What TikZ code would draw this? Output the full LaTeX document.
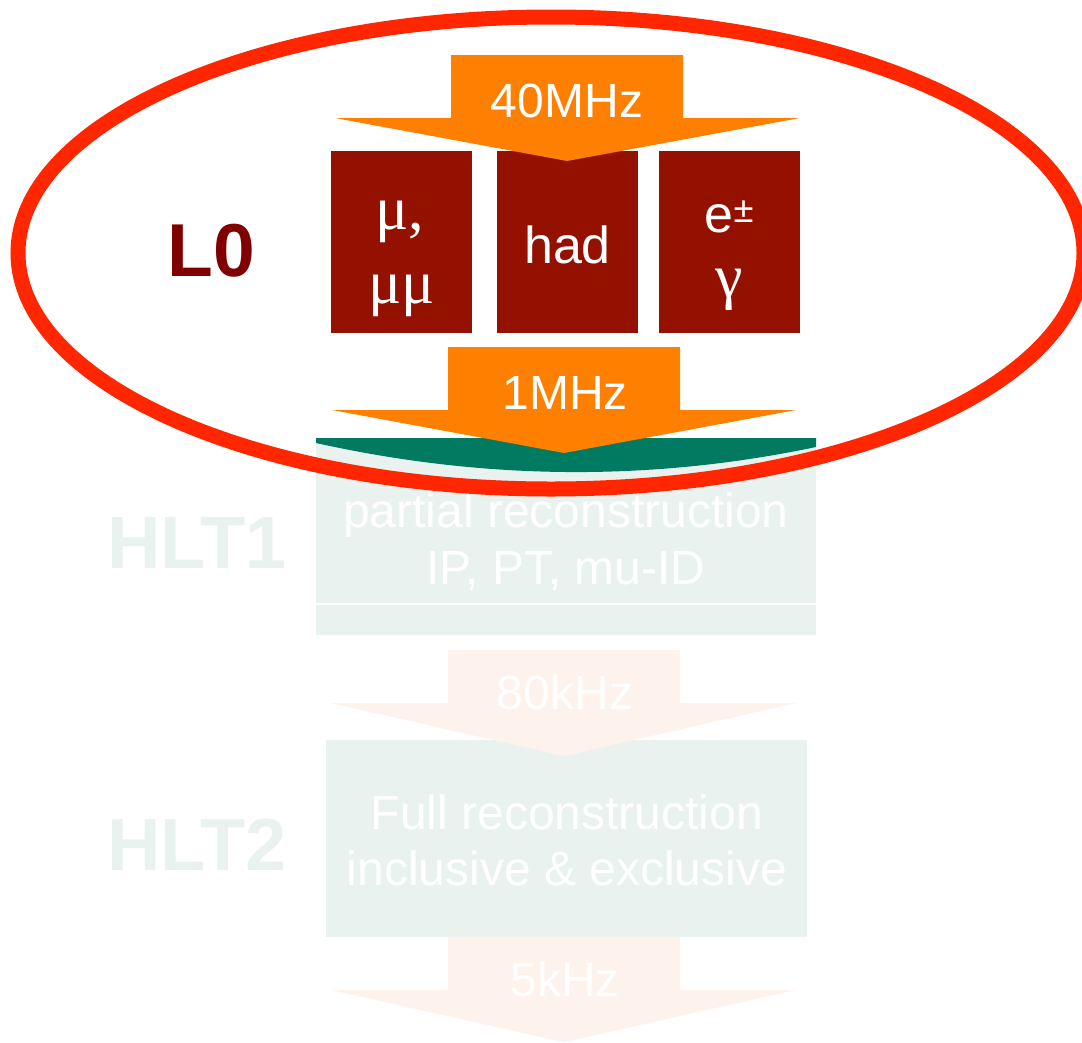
\documentclass[tikz,border=0pt]{standalone}
\usepackage{fontspec}
\setmainfont{Liberation Sans}
\newfontfamily\grk{Liberation Serif}
\definecolor{arrowor}{RGB}{255,128,0}
\definecolor{fadeor}{RGB}{253,243,236}
\definecolor{boxred}{RGB}{148,17,0}
\definecolor{lzero}{RGB}{128,0,0}
\definecolor{bargreen}{RGB}{0,122,96}
\definecolor{lightbox}{RGB}{234,242,240}
\definecolor{ringred}{RGB}{255,38,0}
\begin{document}
\begin{tikzpicture}[x=1pt,y=-1pt,
  lbl/.style={inner sep=0, anchor=base, text=white, font=\fontsize{48}{57}\selectfont},
  boxtxt/.style={inner sep=0, anchor=base, text=white, font=\fontsize{52}{60}\selectfont},
  grktxt/.style={inner sep=0, anchor=base, text=white, font=\grk\fontsize{62}{66}\selectfont},
  redbox/.style={fill=boxred, inner sep=0, minimum width=141, minimum height=182},
  stagelbl/.style={inner sep=0, anchor=base west, text=lightbox, font=\bfseries\fontsize{74}{80}\selectfont},
  lightrect/.style={fill=lightbox, inner sep=0}
]
\useasboundingbox (0,0) rectangle (1082,1042);
\fill[white] (0,0) rectangle (1082,1042);

% HLT1 box
\node[lightrect, minimum width=500, minimum height=197] (hlt1box) at (566,536.5) {};
\draw[white, line width=1.2] (316,604) -- (816,604);
\node[lbl] (pr) at (566,527) {partial reconstruction};
\node[lbl] (ip) at (566,584) {IP, PT, mu-ID};
% green bar
\fill[bargreen] (316,438) -- (816,438) -- (816,447) .. controls (649,482) and (483,480) .. (316,443) -- cycle;

% HLT2 box
\node[lightrect, minimum width=481, minimum height=197] (hlt2box) at (566.5,838.5) {};
\node[lbl] (fr) at (567,829) {Full reconstruction};
\node[lbl] (ie) at (567,885) {inclusive \& exclusive};

% L0 boxes
\node[redbox] (mubox) at (401.5,242) {};
\node[redbox] (hadbox) at (567.5,242) {};
\node[redbox] (egbox) at (729.5,242) {};
\node[grktxt] (mu1) at (400,229) {μ,};
\node[grktxt] (mu2) at (402,303) {μμ};
\node[boxtxt] (had) at (567.5,263) {had};
\node[boxtxt] (ee) at (729.5,232) {e\textsuperscript{±}};
\node[grktxt] (gam) at (729.5,297) {γ};

% arrows
\fill[arrowor] (451,55) -- (683,55) -- (683,118) -- (800,118) -- (567,161) -- (335,118) -- (451,118) -- cycle;
\node[lbl] (r40) at (567,117) {40MHz};
\fill[arrowor] (448,347) -- (680,347) -- (680,410) -- (796,410) -- (564,453) -- (332,410) -- (448,410) -- cycle;
\node[lbl] (r1) at (565,409) {1MHz};
\fill[fadeor] (448,650) -- (680,650) -- (680,703) -- (796,703) -- (564,756) -- (331,703) -- (448,703) -- cycle;
\node[lbl] (r80) at (565,709) {80kHz};
\fill[fadeor] (448,937) -- (680,937) -- (680,990) -- (796,990) -- (564,1042) -- (331,990) -- (448,990) -- cycle;
\node[lbl] (r5) at (565,996) {5kHz};

% stage labels
\node[stagelbl] (hlt1) at (107,568) {HLT1};
\node[stagelbl] (hlt2) at (107,870) {HLT2};
\node[inner sep=0, anchor=base, text=lzero, font=\bfseries\fontsize{75}{80}\selectfont] (l0) at (211,276) {L0};

% ring
\draw[ringred, line width=15] (551,253) ellipse [x radius=533, y radius=236];
\end{tikzpicture}
\end{document}
